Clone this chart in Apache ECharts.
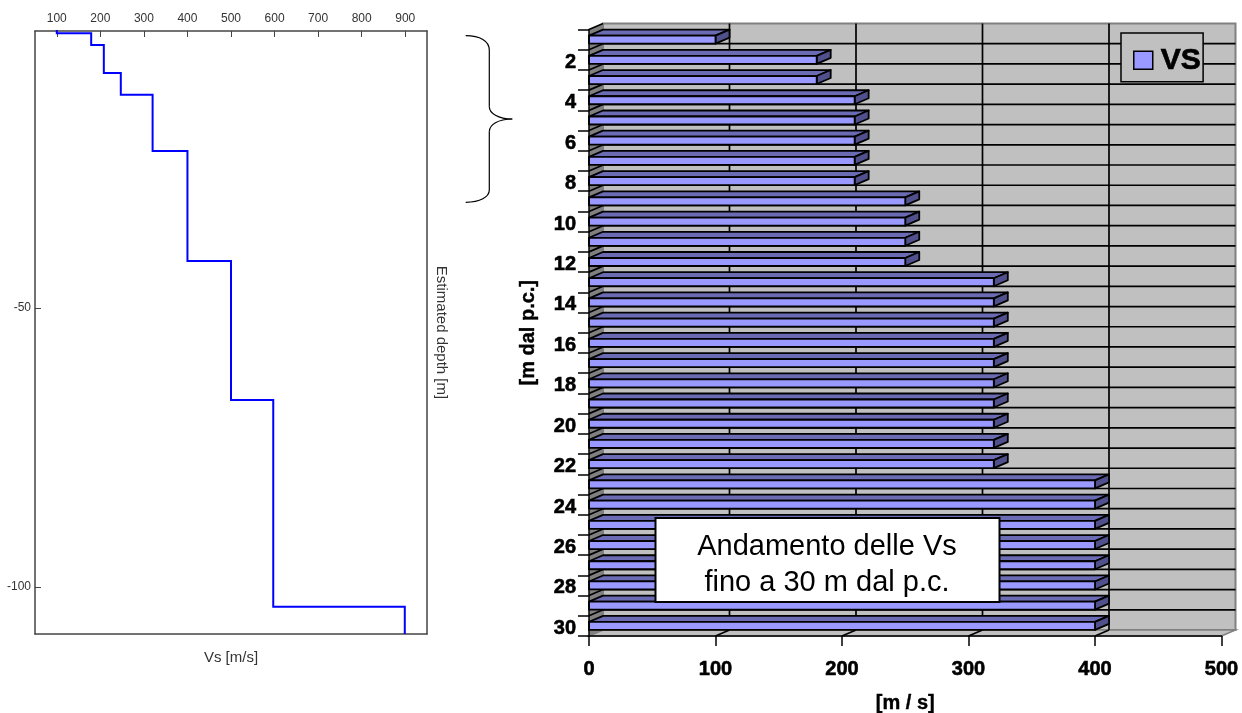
<!DOCTYPE html>
<html><head><meta charset="utf-8">
<script src="https://cdn.jsdelivr.net/npm/echarts@6/dist/echarts.min.js"></script>
<style>html,body{margin:0;padding:0;background:#fff}#c{width:1242px;height:713px}</style>
</head><body><div id="c"></div>
<script>
// Left chart: estimated Vs profile
const profileTicksX = [100,200,300,400,500,600,700,800,900];
const profileTicksY = [-50,-100];
const layerVelocity = [100,179,208,247,320,400,500,597,899];
const layerTop      = [0,-0.8,-2.9,-7.9,-11.8,-21.9,-41.6,-66.5,-103.5];
const layerBottom   = [-0.8,-2.9,-7.9,-11.8,-21.9,-41.6,-66.5,-103.5,-108.4];
// Right chart: Vs per metre
const depthCategories = ['1','2','3','4','5','6','7','8','9','10','11','12','13','14','15','16','17','18','19','20','21','22','23','24','25','26','27','28','29','30'];
const vsValues = [100,180,180,210,210,210,210,210,250,250,250,250,320,320,320,320,320,320,320,320,320,320,400,400,400,400,400,400,400,400];
const vsTicks = [0,100,200,300,400,500];

const profilePoints = [];
layerVelocity.forEach((v,i)=>{profilePoints.push([v,layerTop[i]]);profilePoints.push([v,layerBottom[i]]);});

const DX = 14, DY = 6, BARH = 8;
const FRONT='#9999ff', TOP='#6b6bb4', SIDE='#50508c', WALL='#c0c0c0', EDGE='#808080', INK='#000';
const lineStyle = {stroke:INK, lineWidth:1.7};

function wallsItem(params, api){
  const cs = params.coordSys;
  const x0=cs.x, y0=cs.y, x1=cs.x+cs.width, y1=cs.y+cs.height;
  const kids=[];
  kids.push({type:'rect',shape:{x:x0+DX,y:y0-DY,width:cs.width,height:cs.height},style:{fill:WALL,stroke:EDGE,lineWidth:2}});
  kids.push({type:'polygon',shape:{points:[[x0,y0],[x0+DX,y0-DY],[x0+DX,y1-DY],[x0,y1]]},style:{fill:EDGE}});
  kids.push({type:'polygon',shape:{points:[[x0,y1],[x0+DX,y1-DY],[x1+DX,y1-DY],[x1,y1]]},style:{fill:WALL,stroke:EDGE,lineWidth:1.5}});
  const band=api.size([0,1])[1];
  for(let i=0;i<depthCategories.length;i++){
    const y=api.coord([0,i])[1]-band/2;
    kids.push({type:'line',shape:{x1:x0,y1:y,x2:x0+DX,y2:y-DY},style:lineStyle});
    if(i>0)kids.push({type:'line',shape:{x1:x0+DX,y1:y-DY,x2:x1+DX,y2:y-DY},style:lineStyle});
  }
  vsTicks.forEach(v=>{
    const x=api.coord([v,0])[0];
    if(v>0&&v<500){
      kids.push({type:'line',shape:{x1:x+DX,y1:y0-DY,x2:x+DX,y2:y1-DY},style:lineStyle});
      kids.push({type:'line',shape:{x1:x,y1:y1,x2:x+DX,y2:y1-DY},style:lineStyle});
    }
  });
  return {type:'group',children:kids};
}
function barItem(params, api){
  const p=api.coord([api.value(0),api.value(1)]);
  const o=api.coord([0,api.value(1)]);
  const t=p[1]-BARH/2,b=p[1]+BARH/2,l=o[0],r=p[0];
  const st=f=>({fill:f,stroke:INK,lineWidth:1.8,lineJoin:'round'});
  return {type:'group',children:[
    {type:'polygon',shape:{points:[[l,t],[l+DX,t-DY],[r+DX,t-DY],[r,t]]},style:st(TOP)},
    {type:'polygon',shape:{points:[[r,t],[r+DX,t-DY],[r+DX,b-DY],[r,b]]},style:st(SIDE)},
    {type:'rect',shape:{x:l,y:t,width:r-l,height:BARH},style:st(FRONT)}
  ]};
}
const boldLab = {fontFamily:'Liberation Sans',fontWeight:'bold',fontSize:20,color:'#000',textBorderColor:'#000',textBorderWidth:0.6};
const thinLab = {fontFamily:'Liberation Sans',fontSize:12,color:'#333'};
const nameLab = {fontFamily:'Liberation Sans',fontSize:15,color:'#333'};
const boldName = {fontFamily:'Liberation Sans',fontWeight:'bold',fontSize:20,color:'#000',textBorderColor:'#000',textBorderWidth:0.4};
const leftAxisLine = {show:true,lineStyle:{color:'#444',width:1.5}};
const braceStyle = {fill:'none',stroke:'#000',lineWidth:1.2};
const brace = [
  {type:'bezierCurve',z:30,shape:{x1:465.7,y1:35.7,cpx1:480,cpy1:35.7,cpx2:489.3,cpy2:41,x2:489.3,y2:50},style:braceStyle},
  {type:'line',z:30,shape:{x1:489.3,y1:50,x2:489.3,y2:106.7},style:braceStyle},
  {type:'bezierCurve',z:30,shape:{x1:489.3,y1:106.7,cpx1:489.3,cpy1:113,cpx2:498,cpy2:119,x2:512.3,y2:119},style:braceStyle},
  {type:'bezierCurve',z:30,shape:{x1:512.3,y1:119,cpx1:498,cpy1:119,cpx2:489.3,cpy2:125,x2:489.3,y2:131.7},style:braceStyle},
  {type:'line',z:30,shape:{x1:489.3,y1:131.7,x2:489.3,y2:190},style:braceStyle},
  {type:'bezierCurve',z:30,shape:{x1:489.3,y1:190,cpx1:489.3,cpy1:197,cpx2:480,cpy2:202.3,x2:465.7,y2:202.3},style:braceStyle}
];

const option = {
  animation:false,
  backgroundColor:'#fff',
  grid:[
    {left:35,top:31,width:392,height:603,show:false,outerBoundsMode:'none'},
    {left:589,top:29.5,width:632.5,height:606.5,show:false,outerBoundsMode:'none'}
  ],
  xAxis:[
    {gridIndex:0,type:'value',position:'top',min:50,max:950,splitLine:{show:false},
     axisLine:leftAxisLine,
     axisTick:{show:true,inside:true,length:6,customValues:profileTicksX,lineStyle:{color:'#444',width:1}},
     axisLabel:{...thinLab,margin:6,customValues:profileTicksX}},
    {gridIndex:0,type:'value',position:'bottom',min:50,max:950,splitLine:{show:false},
     axisLine:leftAxisLine,axisTick:{show:false},axisLabel:{show:false},
     name:'Vs [m/s]',nameLocation:'middle',nameGap:16,nameTextStyle:nameLab},
    {gridIndex:1,type:'value',min:0,max:500,interval:100,z:5,splitLine:{show:false},
     axisLine:{show:true,lineStyle:{color:INK,width:1.5}},
     axisTick:{show:true,length:10,lineStyle:{color:INK,width:1.5}},
     axisLabel:{...boldLab,margin:23},
     name:'[m / s]',nameLocation:'middle',nameGap:57,nameTextStyle:boldName}
  ],
  yAxis:[
    {gridIndex:0,type:'value',position:'left',min:-108.4,max:-0.4,splitLine:{show:false},
     axisLine:leftAxisLine,
     axisTick:{show:true,inside:true,length:6,customValues:profileTicksY,lineStyle:{color:'#444',width:1}},
     axisLabel:{...thinLab,margin:4,customValues:profileTicksY}},
    {gridIndex:0,type:'value',position:'right',min:-108.4,max:-0.4,splitLine:{show:false},
     axisLine:leftAxisLine,axisTick:{show:false},axisLabel:{show:false},
     name:'Estimated depth [m]',nameLocation:'middle',nameGap:7,nameRotate:-90,nameTextStyle:nameLab},
    {gridIndex:1,type:'category',inverse:true,data:depthCategories,z:5,
     axisLine:{show:true,lineStyle:{color:INK,width:1.5}},
     axisTick:{show:true,length:11,interval:0,lineStyle:{color:INK,width:1.5}},
     axisLabel:{margin:13,interval:(i)=>i%2===1,formatter:'{a|{value}}',rich:{a:{...boldLab,padding:[5,0,0,0]}}},
     name:'[m dal p.c.]',nameLocation:'middle',nameGap:51,nameRotate:90,nameTextStyle:boldName}
  ],
  legend:{
    data:['VS'],left:1121,top:33,orient:'horizontal',icon:'rect',
    itemWidth:19,itemHeight:18,itemGap:0,padding:[12,2,6,12],
    backgroundColor:WALL,borderColor:INK,borderWidth:1.5,borderRadius:0,
    itemStyle:{borderColor:INK,borderWidth:1.5},
    textStyle:{fontFamily:'Liberation Sans',fontWeight:'bold',fontSize:30,color:'#000',textBorderColor:'#000',textBorderWidth:0.7,padding:[0,0,0,3]},
    selectedMode:false,z:20
  },
  series:[
    {type:'line',name:'Vs profile',xAxisIndex:0,yAxisIndex:0,data:profilePoints,showSymbol:false,symbol:'none',
     lineStyle:{color:'#0000ff',width:2,join:'miter'},clip:true,z:3},
    {type:'custom',name:'walls',xAxisIndex:2,yAxisIndex:2,coordinateSystem:'cartesian2d',data:[[0,0]],renderItem:wallsItem,z:1,silent:true,clip:false},
    {type:'custom',name:'VS',xAxisIndex:2,yAxisIndex:2,coordinateSystem:'cartesian2d',
     data:vsValues.map((v,i)=>[v,i]),encode:{x:0,y:1},renderItem:barItem,itemStyle:{color:FRONT},z:3,clip:false}
  ],
  graphic:[
    ...brace,
    {type:'rect',z:30,shape:{x:655.5,y:518,width:344,height:84},style:{fill:'#fff',stroke:INK,lineWidth:2}},
    {type:'text',z:31,x:827,y:547,style:{text:'Andamento delle Vs',fontFamily:'Liberation Sans',fontSize:29,fill:'#000',align:'center',verticalAlign:'middle'}},
    {type:'text',z:31,x:827,y:583,style:{text:'fino a 30 m dal p.c.',fontFamily:'Liberation Sans',fontSize:29,fill:'#000',align:'center',verticalAlign:'middle'}}
  ]
};
echarts.init(document.getElementById('c'),null,{renderer:'canvas'}).setOption(option);
</script></body></html>
